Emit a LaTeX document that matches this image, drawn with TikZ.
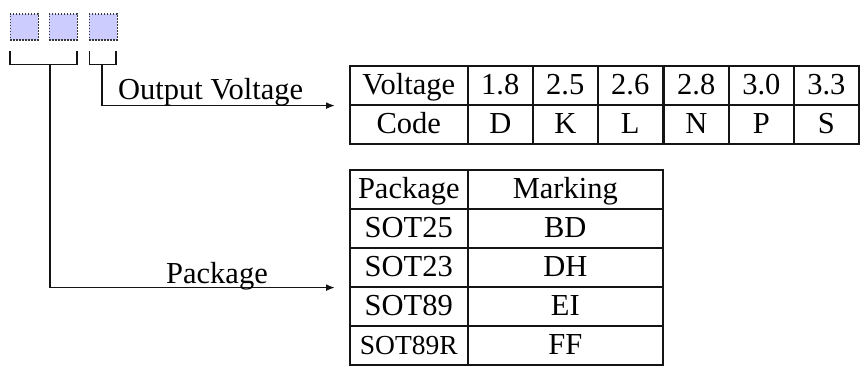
\documentclass[tikz,border=0pt]{standalone}
\usepackage{fontspec}
\setmainfont{Liberation Serif}
\usetikzlibrary{arrows.meta}
\definecolor{sqfill}{RGB}{204,204,255}
\definecolor{ink}{RGB}{20,20,20}
\begin{document}
\begin{tikzpicture}[x=1pt,y=-1pt,
  font=\fontsize{30.5}{36}\selectfont,
  sqbox/.style={draw=ink!85, line width=1.5pt, dash pattern=on 1.6pt off 1.4pt, fill=sqfill,
    minimum width=28pt, minimum height=26pt, inner sep=0pt, anchor=north west},
  cell/.style={draw=ink, line width=1.6pt, inner sep=0pt, anchor=north west,
    minimum height=39pt, text height=24pt, text depth=6pt},
  widecell/.style={cell, minimum width=118pt},
  narrowcell/.style={cell, minimum width=65pt},
  markcell/.style={cell, minimum width=195pt},
  link/.style={draw=ink, line width=1.7pt},
  arr/.style={link, -{Latex[length=9pt,width=7pt]}, shorten >=14pt},
  lbl/.style={inner sep=0pt, anchor=base west}]
\useasboundingbox (0,0) rectangle (866,372);

% squares
\node[sqbox] (s1) at (9.5,13) {};
\node[sqbox] (s2) at (48.5,13) {};
\node[sqbox] (s3) at (88.5,13) {};

% brackets
\coordinate (b1l) at (10,51);
\coordinate (b1r) at (77,51);
\coordinate (b2l) at (89.5,51);
\coordinate (b2r) at (116,51);
\coordinate (b1) at (50,64.5);
\coordinate (b2) at (102,64.5);
\draw[link] (b1l) |- (b1r |- b1) -- (b1r);
\draw[link] (b2l) |- (b2r |- b2) -- (b2r);

% voltage table
\node[widecell]   (v0) at (349,65) {Voltage};
\node[narrowcell] (v1) at (467,65) {1.8};
\node[narrowcell] (v2) at (532,65) {2.5};
\node[narrowcell] (v3) at (597,65) {2.6};
\node[narrowcell] (v4) at (663,65) {2.8};
\node[narrowcell] (v5) at (728,65) {3.0};
\node[narrowcell] (v6) at (793,65) {3.3};
\node[widecell]   (c0) at (349,104) {Code};
\node[narrowcell] (c1) at (467,104) {D};
\node[narrowcell] (c2) at (532,104) {K};
\node[narrowcell] (c3) at (597,104) {L};
\node[narrowcell] (c4) at (663,104) {N};
\node[narrowcell] (c5) at (728,104) {P};
\node[narrowcell] (c6) at (793,104) {S};

% package table
\node[widecell] (p0) at (349,169) {Package};
\node[markcell] (m0) at (467,169) {Marking};
\node[widecell] (p1) at (349,208) {SOT25};
\node[markcell] (m1) at (467,208) {BD};
\node[widecell] (p2) at (349,247) {SOT23};
\node[markcell] (m2) at (467,247) {DH};
\node[widecell] (p3) at (349,286) {SOT89};
\node[markcell] (m3) at (467,286) {EI};
\node[widecell] (p4) at (349,325) {\fontsize{27.5}{32}\selectfont SOT89R};
\node[markcell] (m4) at (467,325) {FF};

% connectors
\draw[arr] (b2) |- (v0.south west);
\draw[arr] (b1) |- (p2.south west);

% labels
\node[lbl] (lv) at (118,99.5) {Output Voltage};
\node[lbl] (lp) at (166,283) {Package};
\end{tikzpicture}
\end{document}
